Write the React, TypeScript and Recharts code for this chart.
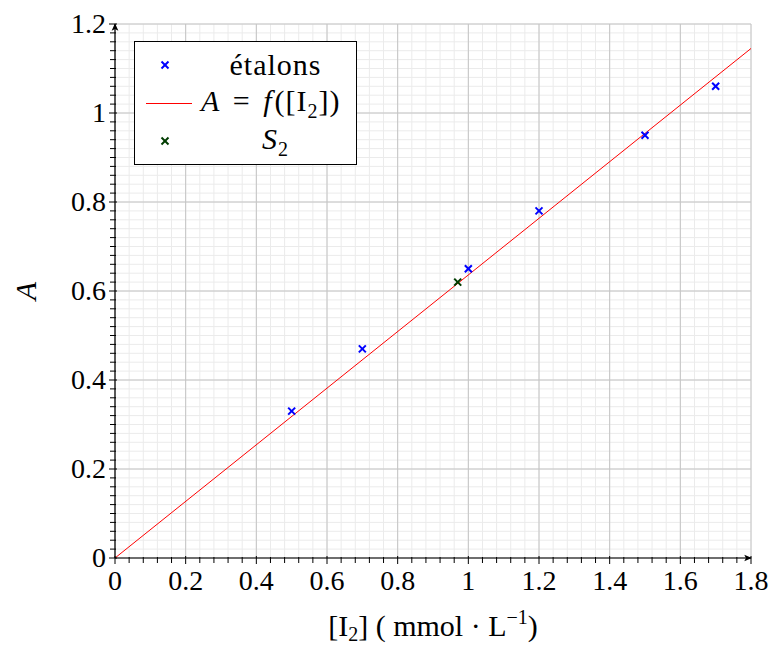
import { ComposedChart, Line, Scatter, XAxis, YAxis, CartesianGrid } from 'recharts';

// calibration points (étalons)
const etalonX = [0.5, 0.7, 1.0, 1.2, 1.5, 1.7];
const etalonA = [0.33, 0.47, 0.65, 0.78, 0.95, 1.06];

// unknown sample S2
const s2X = [0.97];
const s2A = [0.62];

// fitted line A = f([I2]) through origin
const fitX = [0, 1.8];
const fitA = [0, 1.145];

const xMajor = [0, 0.2, 0.4, 0.6, 0.8, 1, 1.2, 1.4, 1.6, 1.8];
const yMajor = [0, 0.2, 0.4, 0.6, 0.8, 1, 1.2];
const xLabels = ['0', '0.2', '0.4', '0.6', '0.8', '1', '1.2', '1.4', '1.6', '1.8'];
const yLabels = ['0', '0.2', '0.4', '0.6', '0.8', '1', '1.2'];

const FONT = '"Liberation Serif", "DejaVu Serif", serif';

// minor ticks: 5 per x step, 10 per y step
const minorTicks = (major: number[], sub: number) => {
  const out: number[] = [];
  for (let i = 0; i < major.length - 1; i++) {
    for (let k = 0; k < sub; k++) {
      out.push(Math.round((major[i] + ((major[i + 1] - major[i]) * k) / sub) * 1000) / 1000);
    }
  }
  out.push(major[major.length - 1]);
  return out;
};
const xMinor = minorTicks(xMajor, 5);
const yMinor = minorTicks(yMajor, 10);

const etalons = etalonX.map((x, i) => ({ x, y: etalonA[i] }));
const s2 = s2X.map((x, i) => ({ x, y: s2A[i] }));
const fit = fitX.map((x, i) => ({ x, y: fitA[i] }));

const majorIndex = (list: number[], v: number) => list.findIndex(m => Math.abs(m - v) < 1e-6);

const Cross = (color: string) => (props: any) => {
  const { cx, cy } = props;
  const r = 3.5;
  return (
    <g stroke={color} strokeWidth={2}>
      <line x1={cx - r} y1={cy - r} x2={cx + r} y2={cy + r} />
      <line x1={cx - r} y1={cy + r} x2={cx + r} y2={cy - r} />
    </g>
  );
};

const XTick = (props: any) => {
  const { x, y, payload } = props;
  const idx = majorIndex(xMajor, payload.value);
  const h = idx >= 0 ? 4 : 3;
  return (
    <g>
      <line x1={x} x2={x} y1={y - h} y2={y + h} stroke="#000" strokeWidth={1} />
      {idx >= 0 && (
        <text x={x} y={y + 30} textAnchor="middle" fontFamily={FONT} fontSize={28} fill="#000">
          {xLabels[idx]}
        </text>
      )}
    </g>
  );
};

const YTick = (props: any) => {
  const { x, y, payload } = props;
  const idx = majorIndex(yMajor, payload.value);
  const h = idx >= 0 ? 4 : 3;
  return (
    <g>
      <line x1={x - h} x2={x + h} y1={y} y2={y} stroke="#000" strokeWidth={1} />
      {idx >= 0 && (
        <text x={x - 7} y={y + 9} textAnchor="end" fontFamily={FONT} fontSize={28} fill="#000">
          {yLabels[idx]}
        </text>
      )}
    </g>
  );
};

const LegendBox = () => {
  const row = { display: 'flex', alignItems: 'center', height: 38 } as const;
  const mark = { width: 60, display: 'flex', justifyContent: 'center' } as const;
  const txt = { flex: 1, textAlign: 'center' as const, fontFamily: FONT, fontSize: 30, color: '#000', letterSpacing: 1 };
  const cross = (c: string) => (
    <svg width={10} height={10}>
      <line x1={1.5} y1={1.5} x2={8.5} y2={8.5} stroke={c} strokeWidth={2} />
      <line x1={1.5} y1={8.5} x2={8.5} y2={1.5} stroke={c} strokeWidth={2} />
    </svg>
  );
  return (
    <div style={{ position: 'absolute', left: 134, top: 41, width: 221, height: 118, border: '1px solid #000', background: '#fff', paddingTop: 4 }}>
      <div style={row}>
        <div style={mark}>{cross('#0000ff')}</div>
        <div style={txt}>étalons</div>
      </div>
      <div style={row}>
        <div style={mark}><div style={{ width: 46, height: 1, background: '#ff0000', marginLeft: 8 }} /></div>
        <div style={{ ...txt, textAlign: 'left', paddingLeft: 6, wordSpacing: 4 }}>
          <i>A</i> = <i style={{ marginRight: 2 }}>f</i>([I<sub style={{ fontSize: 20 }}>2</sub>])
        </div>
      </div>
      <div style={row}>
        <div style={mark}>{cross('#003d00')}</div>
        <div style={txt}><i>S</i><sub style={{ fontSize: 20 }}>2</sub></div>
      </div>
    </div>
  );
};

const XLabel = (props: any) => {
  const { viewBox } = props;
  const cx = viewBox.x + viewBox.width / 2;
  const y = viewBox.y + 78;
  return (
    <text x={cx} y={y} textAnchor="middle" fontFamily={FONT} fontSize={30} fill="#000">
      [I<tspan fontSize={20} dy={5}>2</tspan>
      <tspan dy={-5}>] ( mmol · L</tspan>
      <tspan fontSize={20} dy={-12}>−1</tspan>
      <tspan dy={12}>)</tspan>
    </text>
  );
};

const YLabel = () => (
  <text x={36} y={291} transform="rotate(-90 36 291)" textAnchor="middle" fontFamily={FONT} fontStyle="italic" fontSize={30} fill="#000">
    A
  </text>
);

export default function App() {
  return (
    <div style={{ position: 'absolute', left: 0, top: 0, width: 773, height: 648, background: '#fff' }}>
      <ComposedChart width={773} height={648} margin={{ top: 24, right: 22, bottom: 0, left: 0 }}>
        <defs>
          <marker id="arrowhead" viewBox="0 0 10 10" refX="8" refY="5" markerWidth="7" markerHeight="7" orient="auto-start-reverse">
            <path d="M0,1 L9,5 L0,9 L2,5 Z" fill="#000" />
          </marker>
        </defs>
        <CartesianGrid stroke="#ebebeb" strokeWidth={1} />
        <CartesianGrid stroke="#c4c4c4" strokeWidth={1} horizontalValues={yMajor} verticalValues={xMajor} />
        <XAxis
          dataKey="x"
          type="number"
          domain={[0, 1.8]}
          ticks={xMinor}
          interval={0}
          height={90}
          tickSize={0}
          tickLine={false}
          tick={<XTick />}
          axisLine={{ stroke: '#000', strokeWidth: 1.2, markerEnd: 'url(#arrowhead)' }}
          label={<XLabel />}
          allowDataOverflow
        />
        <YAxis
          type="number"
          domain={[0, 1.2]}
          ticks={yMinor}
          interval={0}
          width={115}
          tickSize={0}
          tickLine={false}
          tick={<YTick />}
          axisLine={{ stroke: '#000', strokeWidth: 1.2, markerStart: 'url(#arrowhead)' }}
          allowDataOverflow
        />
        <Scatter name="étalons" data={etalons} dataKey="y" shape={Cross('#0000ff')} isAnimationActive={false} />
        <Line name="A = f([I2])" data={fit} dataKey="y" stroke="#ff0000" strokeWidth={1} dot={false} isAnimationActive={false} />
        <Scatter name="S2" data={s2} dataKey="y" shape={Cross('#003d00')} isAnimationActive={false} />
        <YLabel />
      </ComposedChart>
      <LegendBox />
    </div>
  );
}
